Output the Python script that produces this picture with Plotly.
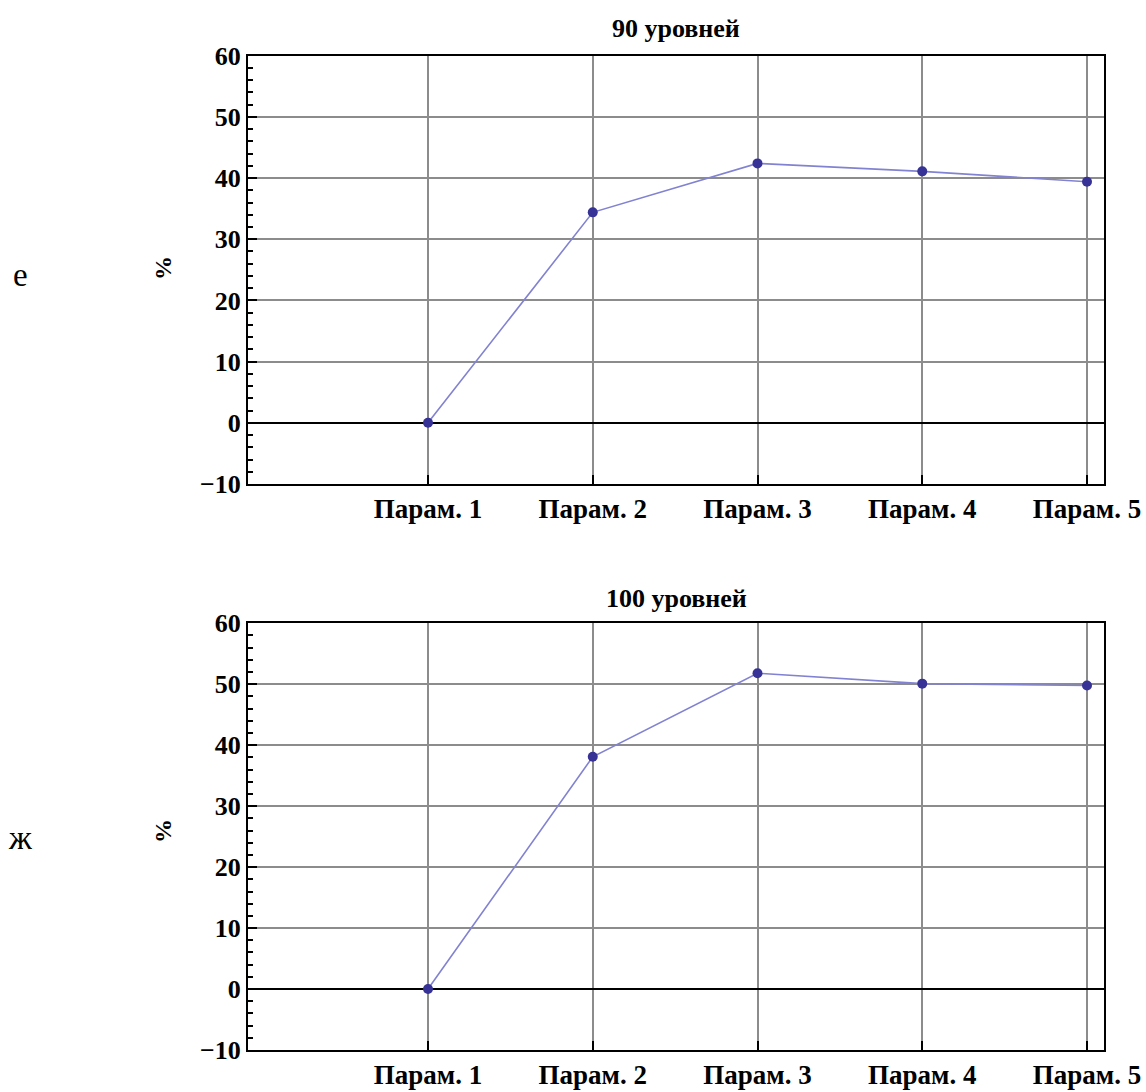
import plotly.graph_objects as go

categories = ["Парам. 1", "Парам. 2", "Парам. 3", "Парам. 4", "Парам. 5"]
x_pos = [1, 2, 3, 4, 5]
values_90 = [0.0, 34.4, 42.4, 41.1, 39.4]
values_100 = [0.0, 38.1, 51.8, 50.1, 49.8]
titles = ["90 уровней", "100 уровней"]
panel_labels = ["е", "ж"]
y_ticks = [-10, 0, 10, 20, 30, 40, 50, 60]

W, H = 1146, 1092
FONT = "Liberation Serif"

fig = go.Figure()

x_dom = [248 / W, 1104 / W]
y_doms = [[1 - 484 / H, 1 - 55.7 / H], [1 - 1050 / H, 1 - 623.3 / H]]
title_y_px = [28, 598]
label_y_px = [275, 838]

for i, vals in enumerate([values_90, values_100]):
    xa = "x" if i == 0 else "x2"
    ya = "y" if i == 0 else "y2"
    fig.add_trace(go.Scatter(
        x=x_pos, y=vals, mode="lines+markers", xaxis=xa, yaxis=ya,
        line=dict(color="rgb(130,130,210)", width=1.6),
        marker=dict(color="rgb(55,50,150)", size=10),
        showlegend=False, cliponaxis=False,
    ))
    axis_x = dict(
        domain=x_dom, range=[1 - 180 / 164.75, 5 + 17 / 164.75],
        tickmode="array", tickvals=x_pos, ticktext=categories,
        ticks="inside", ticklen=9, tickwidth=1.5, tickcolor="black",
        showline=True, linecolor="black", linewidth=2, mirror=True,
        showgrid=True, gridcolor="rgb(140,140,140)", gridwidth=1.5,
        zeroline=False, anchor=ya, automargin=False,
        tickfont=dict(family=FONT, size=27, color="black", weight="bold"),
    )
    axis_y = dict(
        domain=y_doms[i], range=[-10, 60],
        tickmode="array", tickvals=y_ticks,
        ticks="inside", ticklen=9, tickwidth=1.5, tickcolor="black",
        minor=dict(dtick=2, ticks="inside", ticklen=5, tickwidth=1.5, tickcolor="black", showgrid=False),
        showline=True, linecolor="black", linewidth=2, mirror=True,
        showgrid=True, gridcolor="rgb(140,140,140)", gridwidth=1.5,
        zeroline=True, zerolinecolor="black", zerolinewidth=1.8,
        anchor=xa, automargin=False,
        tickfont=dict(family=FONT, size=26, color="black", weight="bold"),
    )
    if i == 0:
        fig.update_layout(xaxis=axis_x, yaxis=axis_y)
    else:
        fig.update_layout(xaxis2=axis_x, yaxis2=axis_y)

    fig.add_annotation(
        text=titles[i], xref="paper", yref="paper",
        x=(x_dom[0] + x_dom[1]) / 2, y=1 - title_y_px[i] / H, xanchor="center", yanchor="middle",
        showarrow=False, font=dict(family=FONT, size=26, color="black", weight="bold"),
    )
    fig.add_annotation(
        text="%", xref="paper", yref="paper", textangle=-90,
        x=163 / W, y=1 - (label_y_px[i] - 7) / H, xanchor="center", yanchor="middle",
        showarrow=False, font=dict(family=FONT, size=24, color="black", weight="bold"),
    )
    fig.add_annotation(
        text=panel_labels[i], xref="paper", yref="paper",
        x=20 / W, y=1 - label_y_px[i] / H, xanchor="center", yanchor="middle",
        showarrow=False, font=dict(family=FONT, size=33, color="black"),
    )

fig.update_layout(
    width=W, height=H, margin=dict(l=0, r=0, t=0, b=0),
    plot_bgcolor="white", paper_bgcolor="white",
)

fig.write_html("out.html")
